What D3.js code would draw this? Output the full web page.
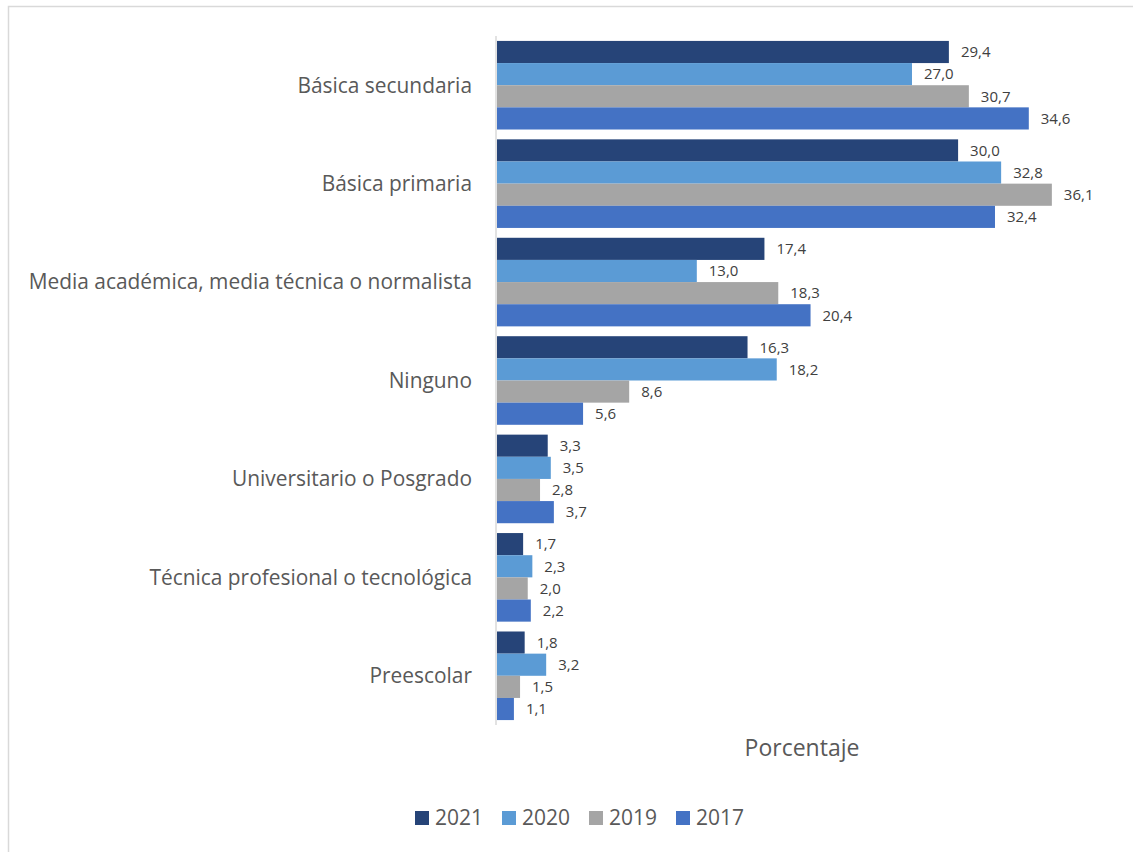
<!DOCTYPE html>
<html>
<head>
<meta charset="utf-8">
<script src="https://cdn.jsdelivr.net/npm/d3@7"></script>
<style>
  html, body { margin: 0; padding: 0; background: #fff; }
  svg { display: block; font-family: "Open Sans", "Noto Sans", sans-serif; }
</style>
</head>
<body>
<svg id="chart" width="1133" height="852"></svg>
<script>
// Nivel educativo, porcentaje por año
const categories = [
  "Básica secundaria",
  "Básica primaria",
  "Media académica, media técnica o normalista",
  "Ninguno",
  "Universitario o Posgrado",
  "Técnica profesional o tecnológica",
  "Preescolar"
];
const years = ["2021", "2020", "2019", "2017"];
const values2021 = [29.4, 30.0, 17.4, 16.3, 3.3, 1.7, 1.8];
const values2020 = [27.0, 32.8, 13.0, 18.2, 3.5, 2.3, 3.2];
const values2019 = [30.7, 36.1, 18.3, 8.6, 2.8, 2.0, 1.5];
const values2017 = [34.6, 32.4, 20.4, 5.6, 3.7, 2.2, 1.1];
const colors = ["#264478", "#5B9BD5", "#A5A5A5", "#4472C4"];
const axisTitle = "Porcentaje";
const textColor = "#595959";
const valueColor = "#404040";

const series = [values2021, values2020, values2019, values2017];
const rows = categories.map((c, i) => ({
  category: c,
  values: years.map((y, k) => ({ year: y, value: series[k][i], color: colors[k] }))
}));

const svg = d3.select("#chart");

// chart frame
svg.append("rect")
  .attr("x", 8.5).attr("y", 6.5)
  .attr("width", 1140).attr("height", 860)
  .attr("fill", "none").attr("stroke", "#D9D9D9").attr("stroke-width", 1.5);

const x = d3.scaleLinear().domain([0, 40]).range([497, 497 + 40 * 15.37]);
const y = d3.scaleBand().domain(categories).range([36, 725]).paddingInner(0.1).paddingOuter(0.05);
const yInner = d3.scaleBand().domain(years).range([0, y.bandwidth()]);

// vertical category axis line
svg.append("line")
  .attr("x1", x(0) - 1).attr("x2", x(0) - 1)
  .attr("y1", 36).attr("y2", 725)
  .attr("stroke", "#D9D9D9").attr("stroke-width", 1.5);

const groups = svg.selectAll("g.cat").data(rows).join("g")
  .attr("class", "cat")
  .attr("transform", d => `translate(0,${y(d.category)})`);

groups.selectAll("rect").data(d => d.values).join("rect")
  .attr("x", x(0))
  .attr("y", d => yInner(d.year))
  .attr("width", d => x(d.value) - x(0))
  .attr("height", yInner.bandwidth())
  .attr("fill", d => d.color);

groups.selectAll("text.val").data(d => d.values).join("text")
  .attr("class", "val")
  .attr("x", d => x(d.value) + 12)
  .attr("y", d => yInner(d.year) + yInner.bandwidth() / 2)
  .attr("dy", "0.35em")
  .attr("font-size", 15)
  .attr("fill", valueColor)
  .text(d => d3.format(".1f")(d.value).replace(".", ","));

// category labels
svg.append("g").selectAll("text").data(categories).join("text")
  .attr("x", 472)
  .attr("y", d => y(d) + y.bandwidth() / 2)
  .attr("dy", "0.35em")
  .attr("text-anchor", "end")
  .attr("font-size", 20.9)
  .attr("fill", textColor)
  .text(d => d);

// axis title
svg.append("text")
  .attr("x", 802).attr("y", 756)
  .attr("text-anchor", "middle")
  .attr("font-size", 23)
  .attr("fill", textColor)
  .text(axisTitle);

// legend
const legendX = [415, 502, 589, 676];
const legend = svg.append("g").selectAll("g").data(years).join("g")
  .attr("transform", (d, i) => `translate(${legendX[i]},818)`);
legend.append("rect")
  .attr("x", 0).attr("y", -7).attr("width", 14).attr("height", 14)
  .attr("fill", (d, i) => colors[i]);
legend.append("text")
  .attr("x", 20).attr("y", 0).attr("dy", "0.35em")
  .attr("font-size", 21).attr("fill", textColor)
  .text(d => d);
</script>
</body>
</html>
